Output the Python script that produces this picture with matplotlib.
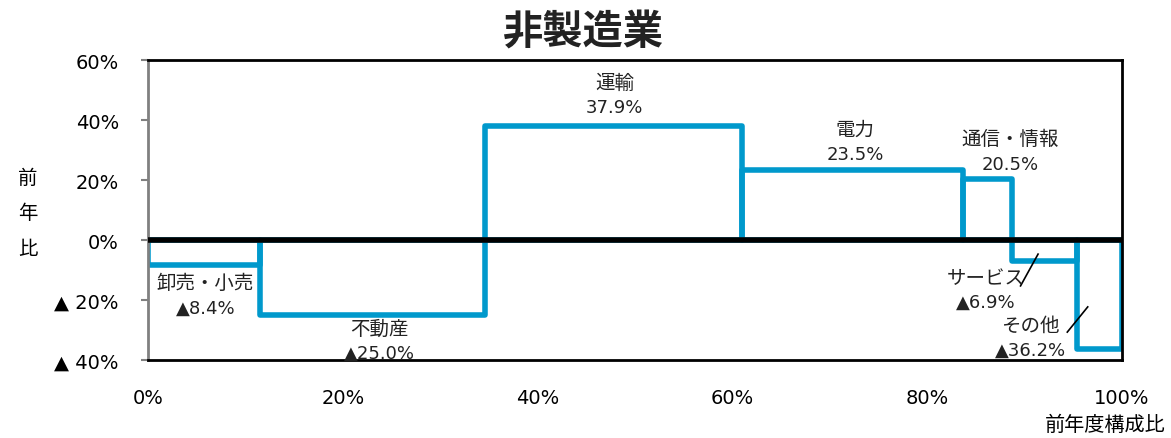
import numpy as np
import matplotlib.pyplot as plt

plt.rcParams['font.family'] = ['DejaVu Sans', 'Noto Sans CJK JP']

# データ
categories = ['卸売・小売', '不動産', '運輸', '電力', '通信・情報', 'サービス', 'その他']
shares = [11.5, 23.1, 26.4, 22.7, 5.0, 6.7, 4.6]   # 前年度構成比 (%)
growth = [-8.4, -25.0, 37.9, 23.5, 20.5, -6.9, -36.2]  # 前年比 (%)
yticks = [-40, -20, 0, 20, 40, 60]
ytick_labels = ['▲ 40%', '▲ 20%', '0%', '20%', '40%', '60%']
xticks = [0, 20, 40, 60, 80, 100]

blue = '#0099CC'

fig = plt.figure(figsize=(11.71, 4.39), dpi=100)
ax = fig.add_axes([0.1264, 0.1777, 0.958 - 0.1264, 0.861 - 0.1777])

lefts = np.concatenate([[0], np.cumsum(shares)[:-1]])
ax.bar(lefts, growth, width=shares, align='edge', fill=False,
       edgecolor=blue, linewidth=4, joinstyle='round', zorder=2)
ax.axhline(0, color='black', linewidth=4, zorder=3)

ax.set_xlim(0, 100)
ax.set_ylim(-40, 60)
ax.set_yticks(yticks)
ax.set_yticklabels(ytick_labels)
ax.set_xticks(xticks)
ax.set_xticklabels([f'{t}%' for t in xticks])
ax.tick_params(axis='x', length=0, pad=20, labelsize=14)
ax.tick_params(axis='y', length=5, width=1.5, color='#808080', pad=16, labelsize=14)

for s in ['top', 'right', 'bottom']:
    ax.spines[s].set_color('black')
    ax.spines[s].set_linewidth(2)
ax.spines['left'].set_color('#808080')
ax.spines['left'].set_linewidth(2)

# ラベル (名称, 値)
label_pos = {
    '卸売・小売': (5.9, -14.3),
    '不動産': (23.8, -29.5),
    '運輸': (47.9, 52.5),
    '電力': (72.6, 37.0),
    '通信・情報': (88.5, 33.7),
    'サービス': (86.0, -12.5),
    'その他': (90.6, -28.3),
}
for name, val in zip(categories, growth):
    x, y = label_pos[name]
    vtxt = f'{val:.1f}%' if val >= 0 else f'▲{abs(val):.1f}%'
    ax.text(x, y, name, ha='center', va='center', fontsize=14, color='#222222', zorder=5)
    ax.text(x, y - 8.2, vtxt, ha='center', va='center', fontsize=13, color='#222222', zorder=5)

# 引き出し線
ax.plot([89.6, 91.4], [-15.3, -4.7], color='black', linewidth=1.2, zorder=4)
ax.plot([94.4, 96.5], [-30.7, -22.3], color='black', linewidth=1.2, zorder=4)

fig.text(0.498, 0.925, '非製造業', ha='center', va='center', fontsize=29,
         fontweight='bold', color='#222222', family='Noto Sans CJK JP')
for i, ch in enumerate('前年比'):
    fig.text(0.024, 1 - (178 + 36 * i) / 439, ch, ha='center', va='center', fontsize=14)
fig.text(0.944, 1 - 425 / 439, '前年度構成比', ha='center', va='center', fontsize=14.5)

fig.savefig('out.png', dpi=100)
